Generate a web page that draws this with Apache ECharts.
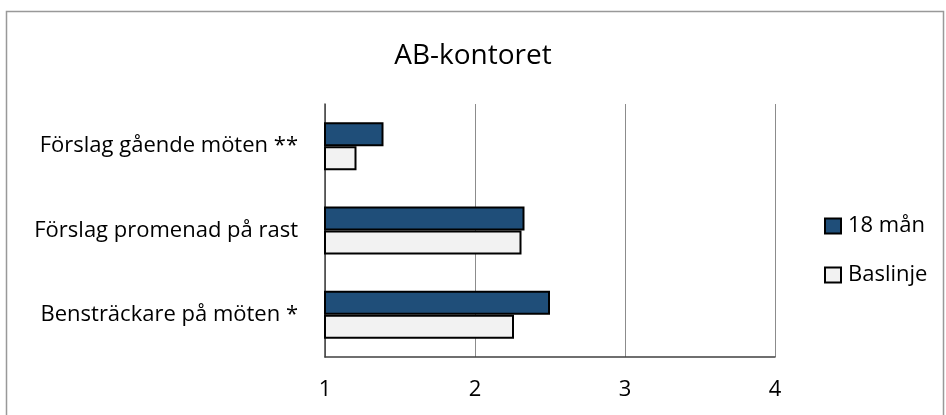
<!DOCTYPE html>
<html>
<head>
<meta charset="utf-8">
<script src="https://cdn.jsdelivr.net/npm/echarts@6/dist/echarts.min.js"></script>
<style>
  html, body { margin: 0; padding: 0; background: #fff; }
  #chart { width: 946px; height: 415px; }
</style>
</head>
<body>
<div id="chart"></div>
<script>
// Categories listed bottom-to-top, as the category axis draws them
const categories = ['Bensträckare på möten *', 'Förslag promenad på rast', 'Förslag gående möten **'];
const man18 = [2.50, 2.33, 1.39];
const baslinje = [2.26, 2.31, 1.21];
const xTicks = [1, 2, 3, 4];

const FONT = '"Open Sans", "Noto Sans", sans-serif';

const chart = echarts.init(document.getElementById('chart'), null, { renderer: 'canvas' });

chart.setOption({
  animation: false,
  backgroundColor: '#ffffff',
  title: {
    text: 'AB-kontoret',
    left: 'center',
    top: 37,
    textStyle: { fontFamily: FONT, fontSize: 28, lineHeight: 28, fontWeight: 'normal', color: '#000' }
  },
  graphic: [{
    type: 'rect',
    shape: { x: 6.5, y: 11.5, width: 937, height: 420 },
    style: { fill: 'none', stroke: '#999999', lineWidth: 1.5 },
    silent: true
  }],
  legend: {
    orient: 'vertical',
    left: 824,
    top: 215,
    padding: 0,
    itemGap: 27,
    itemWidth: 16,
    itemHeight: 15,
    icon: 'rect',
    data: ['18 mån', 'Baslinje'],
    textStyle: { fontFamily: FONT, fontSize: 22, lineHeight: 22, color: '#000', padding: [0, 0, 0, 2] }
  },
  grid: { left: 325, right: 171, top: 104, bottom: 58, containLabel: false },
  xAxis: {
    type: 'value',
    min: xTicks[0],
    max: xTicks[xTicks.length - 1],
    interval: 1,
    axisLine: { show: true, lineStyle: { color: '#404040', width: 1.5 } },
    axisTick: { show: false },
    axisLabel: { fontFamily: FONT, fontSize: 22, lineHeight: 22, color: '#000', margin: 22 },
    splitLine: { show: true, lineStyle: { color: '#8c8c8c', width: 1 } }
  },
  yAxis: {
    type: 'category',
    data: categories,
    axisLine: { show: true, lineStyle: { color: '#404040', width: 1.5 } },
    axisTick: { show: false },
    axisLabel: { fontFamily: FONT, fontSize: 22, color: '#000', margin: 27 },
    splitLine: { show: false }
  },
  series: [
    {
      name: '18 mån',
      type: 'bar',
      data: man18,
      barGap: '0%',
      barCategoryGap: '43%',
      itemStyle: { color: '#1f4e79', borderColor: '#000', borderWidth: 2 }
    },
    {
      name: 'Baslinje',
      type: 'bar',
      data: baslinje,
      barGap: '0%',
      barCategoryGap: '43%',
      itemStyle: { color: '#f2f2f2', borderColor: '#000', borderWidth: 2 }
    }
  ]
});
</script>
</body>
</html>
